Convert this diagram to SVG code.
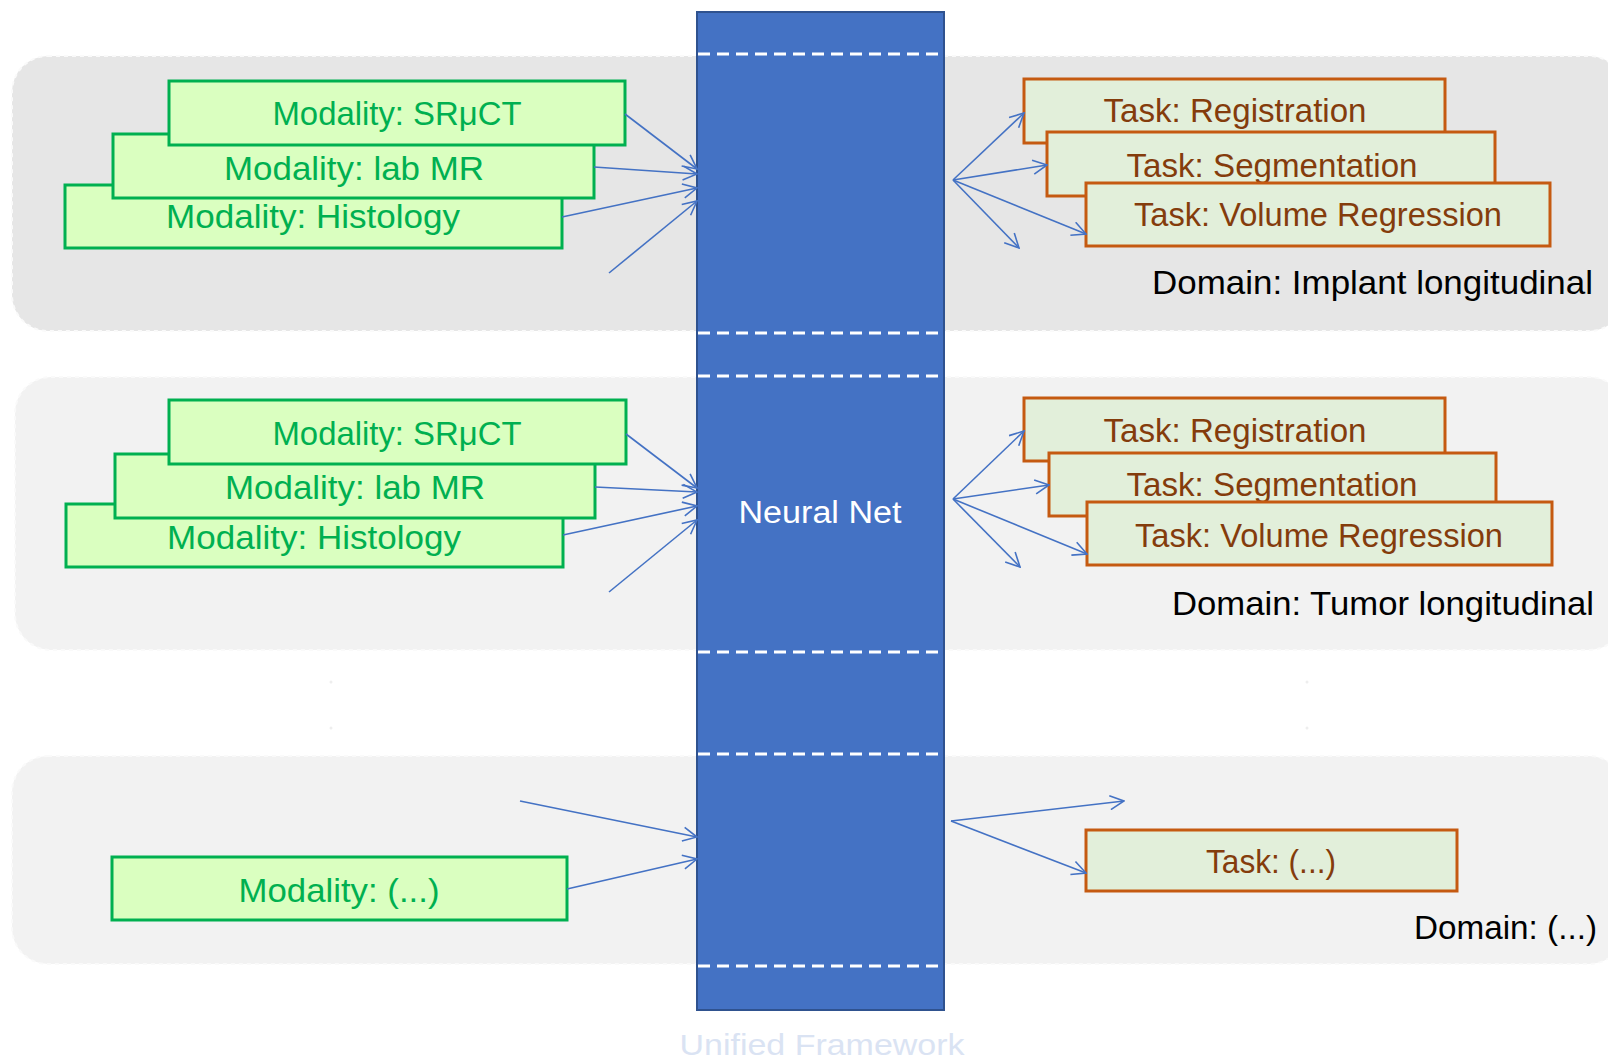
<svg xmlns="http://www.w3.org/2000/svg" width="1608" height="1062" viewBox="0 0 1608 1062">
<style>
.mod rect{fill:#DAFFC0;stroke:#00B050;stroke-width:3}
.mod text{fill:#00B050;font-family:"Liberation Sans",Arial,sans-serif;font-size:33px;text-anchor:middle}
.task rect{fill:#E2EFDA;stroke:#C55A11;stroke-width:3}
.task text{fill:#843C0C;font-family:"Liberation Sans",Arial,sans-serif;font-size:33px;text-anchor:middle}
.dom{fill:#000;font-family:"Liberation Sans",Arial,sans-serif;font-size:33px;text-anchor:end}
.panel{stroke:#FAFAFA;stroke-width:2;stroke-dasharray:4 4}
.sep{stroke:#fff;stroke-width:3;stroke-dasharray:12 7}
.conn line{stroke:#4472C4;stroke-width:1.6;fill:none;marker-end:url(#ah)}
</style>
<defs>
<marker id="ah" viewBox="0 0 16 16" refX="15" refY="8" markerWidth="16" markerHeight="16" markerUnits="userSpaceOnUse" orient="auto">
<path d="M1,1 L15,8 L1,15" fill="none" stroke="#4472C4" stroke-width="1.6"/>
</marker>
</defs>
<rect width="1608" height="1062" fill="#fff"/>
<g id="panels">
<rect id="panel1" class="panel" x="12" y="56" width="1613" height="275" rx="36" fill="#E6E6E6"/>
<rect id="panel2" class="panel" x="15" y="377" width="1610" height="273" rx="36" fill="#F2F2F2"/>
<rect id="panel3" class="panel" x="12" y="756" width="1613" height="208" rx="36" fill="#F2F2F2"/>
<circle cx="331" cy="682" r="1.5" fill="#eee"/><circle cx="331" cy="728" r="1.5" fill="#eee"/>
<circle cx="1307" cy="682" r="1.5" fill="#eee"/><circle cx="1307" cy="728" r="1.5" fill="#eee"/>
</g>
<g id="neural-net">
<rect x="697" y="12" width="247" height="998" fill="#4472C4" stroke="#2F528F" stroke-width="2"/>
<line class="sep" x1="698" y1="54" x2="943" y2="54"/>
<line class="sep" x1="698" y1="333" x2="943" y2="333"/>
<line class="sep" x1="698" y1="376" x2="943" y2="376"/>
<line class="sep" x1="698" y1="652" x2="943" y2="652"/>
<line class="sep" x1="698" y1="754" x2="943" y2="754"/>
<line class="sep" x1="698" y1="966" x2="943" y2="966"/>
<text x="820" y="523" fill="#fff" font-family="'Liberation Sans',Arial,sans-serif" font-size="31" text-anchor="middle" textLength="163" lengthAdjust="spacingAndGlyphs">Neural Net</text>
</g>
<text id="framework-label" x="822" y="1055" fill="#DAE3F3" font-family="'Liberation Sans',Arial,sans-serif" font-size="30" text-anchor="middle" textLength="285" lengthAdjust="spacingAndGlyphs">Unified Framework</text>

<g id="p1-histology" class="mod"><rect x="65" y="185" width="497" height="63"/><text x="313" y="228" textLength="294" lengthAdjust="spacingAndGlyphs">Modality: Histology</text></g>
<g id="p1-labmr" class="mod"><rect x="113" y="134" width="481" height="64"/><text x="354" y="180" textLength="260" lengthAdjust="spacingAndGlyphs">Modality: lab MR</text></g>
<g id="p1-srmct" class="mod"><rect x="169" y="81" width="456" height="64"/><text x="397" y="125" textLength="249" lengthAdjust="spacingAndGlyphs">Modality: SRμCT</text></g>

<g id="p1-registration" class="task"><rect x="1024" y="79" width="421" height="64"/><text x="1235" y="122" textLength="263" lengthAdjust="spacingAndGlyphs">Task: Registration</text></g>
<g id="p1-segmentation" class="task"><rect x="1047" y="132" width="448" height="64"/><text x="1272" y="177" textLength="291" lengthAdjust="spacingAndGlyphs">Task: Segmentation</text></g>
<g id="p1-volume" class="task"><rect x="1086" y="183" width="464" height="63"/><text x="1318" y="226" textLength="368" lengthAdjust="spacingAndGlyphs">Task: Volume Regression</text></g>
<text id="p1-domain" class="dom" x="1593" y="294" textLength="441" lengthAdjust="spacingAndGlyphs">Domain: Implant longitudinal</text>

<g id="p2-histology" class="mod"><rect x="66" y="504" width="497" height="63"/><text x="314" y="549" textLength="294" lengthAdjust="spacingAndGlyphs">Modality: Histology</text></g>
<g id="p2-labmr" class="mod"><rect x="115" y="454" width="480" height="64"/><text x="355" y="499" textLength="260" lengthAdjust="spacingAndGlyphs">Modality: lab MR</text></g>
<g id="p2-srmct" class="mod"><rect x="169" y="400" width="457" height="64"/><text x="397" y="445" textLength="249" lengthAdjust="spacingAndGlyphs">Modality: SRμCT</text></g>

<g id="p2-registration" class="task"><rect x="1024" y="398" width="421" height="63"/><text x="1235" y="442" textLength="263" lengthAdjust="spacingAndGlyphs">Task: Registration</text></g>
<g id="p2-segmentation" class="task"><rect x="1049" y="453" width="447" height="63"/><text x="1272" y="496" textLength="291" lengthAdjust="spacingAndGlyphs">Task: Segmentation</text></g>
<g id="p2-volume" class="task"><rect x="1087" y="502" width="465" height="63"/><text x="1319" y="547" textLength="368" lengthAdjust="spacingAndGlyphs">Task: Volume Regression</text></g>
<text id="p2-domain" class="dom" x="1594" y="615" textLength="422" lengthAdjust="spacingAndGlyphs">Domain: Tumor longitudinal</text>

<g id="p3-modality" class="mod"><rect x="112" y="857" width="455" height="63"/><text x="339" y="902" textLength="201" lengthAdjust="spacingAndGlyphs">Modality: (...)</text></g>
<g id="p3-task" class="task"><rect x="1086" y="830" width="371" height="61"/><text x="1271" y="873" textLength="130" lengthAdjust="spacingAndGlyphs">Task: (...)</text></g>
<text id="p3-domain" class="dom" x="1597" y="939" textLength="183" lengthAdjust="spacingAndGlyphs">Domain: (...)</text>

<g id="connectors" class="conn">
<line x1="625" y1="114" x2="697" y2="169"/>
<line x1="594" y1="167" x2="697" y2="174"/>
<line x1="562" y1="217" x2="697" y2="188"/>
<line x1="609" y1="273" x2="697" y2="201"/>
<line x1="953" y1="180" x2="1024" y2="113"/>
<line x1="953" y1="180" x2="1047" y2="165"/>
<line x1="953" y1="180" x2="1086" y2="234"/>
<line x1="953" y1="180" x2="1019" y2="248"/>
<line x1="626" y1="434" x2="697" y2="488"/>
<line x1="595" y1="487" x2="697" y2="492"/>
<line x1="563" y1="535" x2="697" y2="506"/>
<line x1="609" y1="592" x2="697" y2="520"/>
<line x1="953" y1="499" x2="1024" y2="431"/>
<line x1="953" y1="499" x2="1049" y2="485"/>
<line x1="953" y1="499" x2="1087" y2="554"/>
<line x1="953" y1="499" x2="1020" y2="567"/>
<line x1="520" y1="801" x2="697" y2="837"/>
<line x1="567" y1="889" x2="697" y2="859"/>
<line x1="951" y1="821" x2="1124" y2="801"/>
<line x1="951" y1="821" x2="1086" y2="873"/>
</g>
</svg>
